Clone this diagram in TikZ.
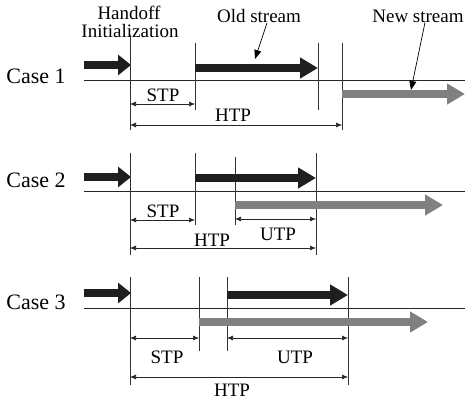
\documentclass[tikz,border=0pt]{standalone}
\usepackage{fontspec}
\setmainfont{Liberation Serif}
\usetikzlibrary{arrows.meta}
\begin{document}
\begin{tikzpicture}[x=1pt,y=-1pt,
  lbl/.style={font=\fontsize{19}{19}\selectfont, inner sep=0pt},
  casel/.style={font=\fontsize{22}{22}\selectfont, inner sep=0pt},
  axis/.style={line width=0.8pt, black!85},
  tick/.style={line width=0.6pt, black!80},
  oldarr/.style={line width=8pt, black!88, -{Triangle[length=18pt,width=20pt]}},
  prearr/.style={line width=8pt, black!88, -{Triangle[length=13pt,width=20pt]}},
  newarr/.style={line width=8pt, black!50, -{Triangle[length=18pt,width=20pt]}},
  dim/.style={line width=0.6pt, black!85, {Latex[length=6pt,width=5pt]}-{Latex[length=6pt,width=5pt]}},
  pointer/.style={line width=0.7pt, black, -{Triangle[length=9pt,width=7pt]}}]
\useasboundingbox (0,0) rectangle (470,403);

% ---------- labels at top
\node[lbl] (hand) at (129,13) {Handoff};
\node[lbl] (init) at (130,31) {Initialization};
\node[lbl] (old) at (259,16) {Old stream};
\node[lbl] (new) at (418,16) {New stream};

% ---------- Case 1
\node[casel] (c1) at (36,76) {Case 1};
\draw[axis] (84,80) -- (465,80);
\coordinate (a1s) at (84,65); \coordinate (a1e) at (131,65);
\draw[prearr] (a1s) -- (a1e);
\draw[tick] (130,35) -- (130,130);
\draw[tick] (195,43) -- (195,110);
\draw[tick] (318,43) -- (318,110);
\draw[tick] (342,43) -- (342,130);
\coordinate (o1s) at (195,68); \coordinate (o1e) at (318,68);
\draw[oldarr] (o1s) -- (o1e);
\coordinate (n1s) at (342,94); \coordinate (n1e) at (465,94);
\draw[newarr] (n1s) -- (n1e);
\coordinate (s1a) at (130,104); \coordinate (s1b) at (195,104);
\draw[dim] (s1a) -- (s1b);
\node[lbl] (stp1) at (163,95) {STP};
\coordinate (h1a) at (130,125); \coordinate (h1b) at (342,125);
\draw[dim] (h1a) -- (h1b);
\node[lbl] (htp1) at (233,115) {HTP};
\coordinate (op) at (255,59);
\coordinate (np) at (411,90);
\draw[pointer] ([xshift=8pt]old.south) -- (op);
\draw[pointer] ([xshift=7pt]new.south) -- (np);

% ---------- Case 2
\node[casel] (c2) at (36,180) {Case 2};
\draw[axis] (84,191) -- (465,191);
\coordinate (a2s) at (84,177); \coordinate (a2e) at (131,177);
\draw[prearr] (a2s) -- (a2e);
\draw[tick] (130,153) -- (130,255);
\draw[tick] (195,153) -- (195,225);
\draw[tick] (235,157) -- (235,225);
\draw[tick] (316,153) -- (316,255);
\coordinate (o2s) at (195,178); \coordinate (o2e) at (316,178);
\draw[oldarr] (o2s) -- (o2e);
\coordinate (n2s) at (235,205); \coordinate (n2e) at (443,205);
\draw[newarr] (n2s) -- (n2e);
\coordinate (s2a) at (130,220); \coordinate (s2b) at (195,220);
\draw[dim] (s2a) -- (s2b);
\node[lbl] (stp2) at (163,211) {STP};
\coordinate (u2a) at (235,219); \coordinate (u2b) at (316,219);
\draw[dim] (u2a) -- (u2b);
\node[lbl] (utp2) at (278,234) {UTP};
\coordinate (h2a) at (130,248); \coordinate (h2b) at (316,248);
\draw[dim] (h2a) -- (h2b);
\node[lbl] (htp2) at (212,240) {HTP};

% ---------- Case 3
\node[casel] (c3) at (36,302) {Case 3};
\draw[axis] (84,308) -- (465,308);
\coordinate (a3s) at (84,293); \coordinate (a3e) at (131,293);
\draw[prearr] (a3s) -- (a3e);
\draw[tick] (130,277) -- (130,385);
\draw[tick] (199,277) -- (199,351);
\draw[tick] (227,277) -- (227,351);
\draw[tick] (348,277) -- (348,385);
\coordinate (o3s) at (227,295); \coordinate (o3e) at (348,295);
\draw[oldarr] (o3s) -- (o3e);
\coordinate (n3s) at (199,322); \coordinate (n3e) at (428,322);
\draw[newarr] (n3s) -- (n3e);
\coordinate (s3a) at (130,338); \coordinate (s3b) at (199,338);
\draw[dim] (s3a) -- (s3b);
\node[lbl] (stp3) at (167,357) {STP};
\coordinate (u3a) at (227,338); \coordinate (u3b) at (348,338);
\draw[dim] (u3a) -- (u3b);
\node[lbl] (utp3) at (295,357) {UTP};
\coordinate (h3a) at (130,377); \coordinate (h3b) at (348,377);
\draw[dim] (h3a) -- (h3b);
\node[lbl] (htp3) at (232,390) {HTP};
\end{tikzpicture}
\end{document}
